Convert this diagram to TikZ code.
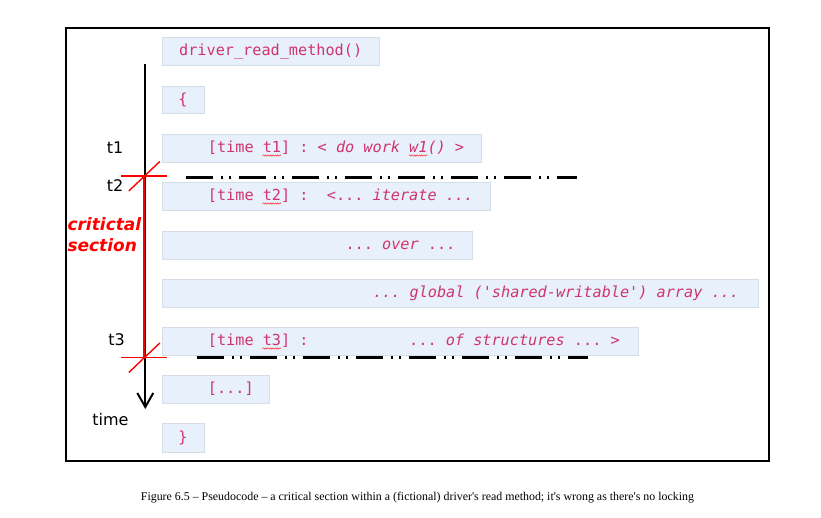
\documentclass[tikz,border=0pt]{standalone}
\usepackage{fontspec}
\setmainfont{Liberation Serif}[Ligatures=TeXOff]
\setsansfont{DejaVu Sans}
\setmonofont{DejaVu Sans Mono}
\usetikzlibrary{arrows.meta,decorations.pathmorphing}
\definecolor{boxfill}{RGB}{231,240,251}
\definecolor{boxline}{RGB}{213,221,231}
\definecolor{codecol}{RGB}{208,52,108}
\frenchspacing
\begin{document}
\begin{tikzpicture}[x=1pt,y=-1pt,
  cbox/.style={draw=boxline, fill=boxfill, line width=1pt, anchor=north west, inner sep=0pt},
  code/.style={font=\fontsize{15.2}{18}\ttfamily, text=codecol, inner sep=0pt, anchor=base west},
  lbl/.style={font=\fontsize{16}{19}\sffamily, inner sep=0pt, anchor=base},
  crit/.style={font=\fontsize{17}{21}\sffamily\bfseries\itshape, text=red, inner sep=0pt, anchor=base west},
  sync/.style={line width=2.5pt, dash pattern=on 27pt off 8.2pt on 2.4pt off 5.4pt on 2.4pt off 7.6pt},
  squig/.style={draw=red!75, line width=0.6pt, decorate, decoration={snake, amplitude=0.6pt, segment length=2.4pt}},
  cross/.style={draw=red, line width=1.4pt}]
\useasboundingbox (0,0) rectangle (821,518);
% frame
\node[draw=black, line width=2pt, minimum width=703pt, minimum height=433pt, anchor=north west, inner sep=0pt] (frame) at (65,27) {};
% code boxes
\node[cbox, minimum width=217pt, minimum height=28pt] (b1) at (162,37) {};
\node[cbox, minimum width=42pt, minimum height=27pt] (b2) at (162,86) {};
\node[cbox, minimum width=319pt, minimum height=28pt] (b3) at (162,134) {};
\node[cbox, minimum width=328pt, minimum height=28pt] (b4) at (162,182) {};
\node[cbox, minimum width=310pt, minimum height=28pt] (b5) at (162,231) {};
\node[cbox, minimum width=596pt, minimum height=28pt] (b6) at (162,279) {};
\node[cbox, minimum width=476pt, minimum height=28pt] (b7) at (162,327) {};
\node[cbox, minimum width=107pt, minimum height=28pt] (b8) at (162,375) {};
\node[cbox, minimum width=42pt, minimum height=29pt] (b9) at (162,423) {};
% code text
\node[code, anchor=base] (c1) at (270.7,55.7) {driver\_read\_method()};
\node[code, anchor=base] (c2) at (183,104.2) {\{};
\node[code] (c3) at (207.7,152.7) {{[}time t1] : < \textit{do work w1()} >};
\node[code] (c4) at (207.7,200.7) {{[}time t2] :~~<...~\textit{iterate ...}};
\node[code] (c5) at (345.3,249.7) {...~\textit{over}~...};
\node[code] (c6) at (372.8,297.7) {\textit{...~global ('shared-writable') array ...}};
\node[code] (c7) at (207.7,345.7) {{[}time t3] :\hphantom{xxxxxxxxxxx}...~\textit{of structures}~... >};
\node[code] (c8) at (207.7,393.7) {{[}...]};
\node[code, anchor=base] (c9) at (183,442.2) {\}};
% spell-check squiggles
\draw[squig] ([xshift=54.9pt, yshift=-2.8pt]c3.base west) -- ++(18.3pt,0pt);
\draw[squig] ([xshift=201.3pt, yshift=-2.8pt]c3.base west) -- ++(18.3pt,0pt);
\draw[squig] ([xshift=54.9pt, yshift=-2.8pt]c4.base west) -- ++(18.3pt,0pt);
\draw[squig] ([xshift=54.9pt, yshift=-2.8pt]c7.base west) -- ++(18.3pt,0pt);
% synchronisation lines
\coordinate (s1a) at (185.7,177.3);
\coordinate (s1b) at (577,177.3);
\coordinate (s2a) at (196.7,357.5);
\coordinate (s2b) at (588.3,357.5);
\draw[sync] (s1a) -- (s1b);
\draw[sync] (s2a) -- (s2b);
% time axis
\coordinate (ttop) at (145.3,64);
\coordinate (tbot) at (145.3,409);
\draw[line width=2pt, -{Straight Barb[length=14pt,width=16pt,line width=2pt]}] (ttop) -- (tbot);
\coordinate (p2) at (143.8,176);
\coordinate (p3) at (143.8,357.5);
\draw[red, line width=2.2pt] (p2) -- (p3);
\draw[cross] ([xshift=-23pt]p2) -- ([xshift=23pt]p2);
\draw[cross] ([shift={(-15pt,-15pt)}]p2) -- ([shift={(16pt,14.5pt)}]p2);
\draw[cross] ([xshift=-23pt]p3) -- ([xshift=23pt]p3);
\draw[cross] ([shift={(-15pt,-15pt)}]p3) -- ([shift={(16pt,14.5pt)}]p3);
% labels
\node[lbl] (l1) at (115,153.3) {t1};
\node[lbl] (l2) at (115,191.7) {t2};
\node[lbl] (l3) at (116.7,345.7) {t3};
\node[lbl] (lt) at (110.4,425) {time};
\node[crit] (cs1) at (67.3,231) {critictal};
\node[crit] (cs2) at (67.3,252) {section};
% caption
\node[font=\fontsize{11.9}{14}\selectfont, anchor=base, inner sep=0pt] (cap) at (417.4,500.3) {Figure 6.5 – Pseudocode – a critical section within a (fictional) driver's read method; it's wrong as there's no locking};
\end{tikzpicture}
\end{document}
